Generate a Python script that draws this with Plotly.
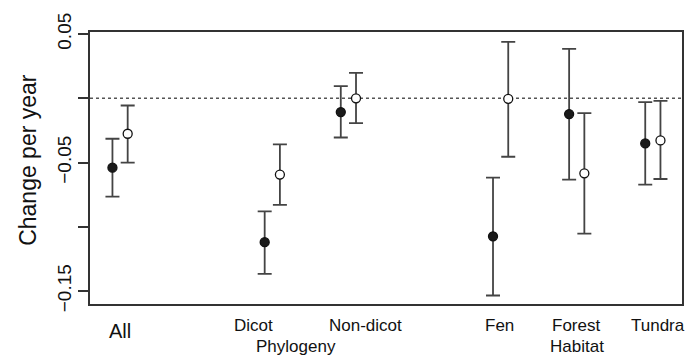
import plotly.graph_objects as go

categories = ["All", "Dicot", "Non-dicot", "Fen", "Forest", "Tundra"]
group_pos = [1, 3, 4, 6, 7, 8]

filled_mean = [-0.054, -0.112, -0.0107, -0.1074, -0.0123, -0.0351]
filled_upper = [-0.0315, -0.088, 0.0095, -0.0618, 0.0385, -0.003]
filled_lower = [-0.0765, -0.1366, -0.0305, -0.1535, -0.0633, -0.0672]

open_mean = [-0.0276, -0.0594, 0.0, -0.0004, -0.0584, -0.0328]
open_upper = [-0.0056, -0.0359, 0.0198, 0.0439, -0.0115, -0.002]
open_lower = [-0.0501, -0.083, -0.0193, -0.0455, -0.1053, -0.0628]

label_pos = [1.0, 2.755, 4.23, 5.99, 6.99, 8.07]
group_titles = ["Phylogeny", "Habitat"]
group_title_pos = [3.31, 7.0]

ytick_vals = [0.05, 0.0, -0.05, -0.10, -0.15]
ytick_text = ["0.05", "", "\u22120.05", "", "\u22120.15"]

offset = 0.1
FONT = "Liberation Sans, Arial, sans-serif"
BAR = "#444444"

fig = go.Figure()

def add_series(means, upper, lower, shift, fill):
    xs = [p + shift for p in group_pos]
    fig.add_trace(go.Scatter(
        x=xs, y=means, mode="markers",
        marker=dict(size=9, color=fill, line=dict(color="#111111", width=1.3)),
        error_y=dict(type="data", symmetric=False,
                     array=[u - m for u, m in zip(upper, means)],
                     arrayminus=[m - l for m, l in zip(means, lower)],
                     color=BAR, thickness=1.8, width=7),
        showlegend=False, hoverinfo="skip"))

add_series(filled_mean, filled_upper, filled_lower, -offset, "#1a1a1a")
add_series(open_mean, open_upper, open_lower, offset, "#ffffff")

fig.add_shape(type="line", xref="paper", yref="y", x0=0, x1=1, y0=0, y1=0,
              line=dict(color="#555555", width=1.5, dash="dot"), layer="below")

for lab, xp in zip(categories, label_pos):
    fig.add_annotation(x=xp, xref="x", xanchor="center", y=0, yref="paper", yanchor="middle",
                       yshift=-27 if lab == "All" else -21, text=lab, showarrow=False,
                       font=dict(family=FONT, size=20 if lab == "All" else 17, color="#111111"))
for lab, xp in zip(group_titles, group_title_pos):
    fig.add_annotation(x=xp, xref="x", xanchor="center", y=0, yref="paper", yanchor="middle",
                       yshift=-42, text=lab, showarrow=False,
                       font=dict(family=FONT, size=17, color="#111111"))

fig.add_annotation(x=0, xref="paper", xanchor="center", xshift=-62, y=0.53, yref="paper",
                   yanchor="middle", text="Change per year", textangle=-90, showarrow=False,
                   font=dict(family=FONT, size=23, color="#111111"))

fig.update_layout(
    width=690, height=355,
    margin=dict(l=90, r=6, t=32, b=51),
    paper_bgcolor="white", plot_bgcolor="white",
    xaxis=dict(range=[0.605, 8.383], showgrid=False, zeroline=False,
               showticklabels=False, ticks="", showline=True, mirror=True,
               linecolor="#333333", linewidth=1.6),
    yaxis=dict(range=[-0.1601, 0.0516], showgrid=False, zeroline=False,
               tickvals=ytick_vals, ticktext=ytick_text, tickangle=-90,
               ticks="outside", ticklen=10, tickwidth=1.6, tickcolor="#333333",
               tickfont=dict(family=FONT, size=19, color="#111111"),
               showline=True, mirror=True, linecolor="#333333", linewidth=1.6),
)

fig.write_html("out.html", config={"displayModeBar": False},
               post_script="document.body.style.margin='0';document.body.style.overflow='hidden';")
